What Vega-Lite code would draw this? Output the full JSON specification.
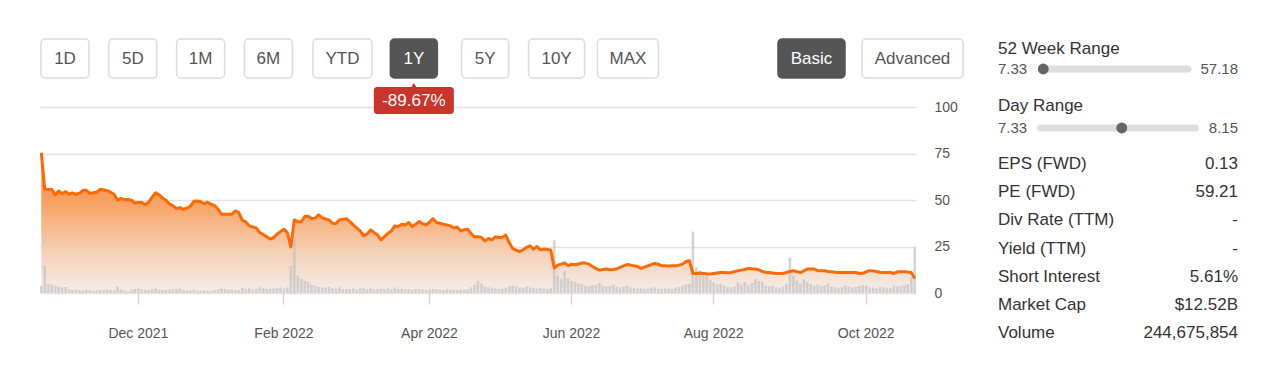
{
  "$schema": "https://vega.github.io/schema/vega-lite/v6.json",
  "background": "white",
  "padding": {"left": 39, "top": 38, "right": 0, "bottom": 0},
  "config": {"view": {"stroke": null}, "font": "Liberation Sans"},
  "datasets": {
    "buttons": [{"b":"1D"},{"b":"5D"},{"b":"1M"},{"b":"6M"},{"b":"YTD"},{"b":"1Y"},{"b":"5Y"},{"b":"10Y"},{"b":"MAX"}],
    "badge": [{"b":"1Y","t":"-89.67%"}],
    "modes": [{"b":"Basic"},{"b":"Advanced"}],
    "r52": [{"name":"52 Week Range","lo":7.33,"hi":57.18,"cur":7.76}],
    "rday": [{"name":"Day Range","lo":7.33,"hi":8.15,"cur":7.76}],
    "stats": [
      {"k":"EPS (FWD)","v":"0.13"},
      {"k":"PE (FWD)","v":"59.21"},
      {"k":"Div Rate (TTM)","v":"-"},
      {"k":"Yield (TTM)","v":"-"},
      {"k":"Short Interest","v":"5.61%"},
      {"k":"Market Cap","v":"$12.52B"},
      {"k":"Volume","v":"244,675,854"}
    ],
    "prices": [
      {"d":"2021-10-21","c":75.4,"v":39},{"d":"2021-10-22","c":55.8,"v":147},{"d":"2021-10-25","c":55.6,"v":50},{"d":"2021-10-26","c":55.8,"v":46},{"d":"2021-10-27","c":52.7,"v":40},{"d":"2021-10-28","c":54.8,"v":34},{"d":"2021-10-29","c":53.4,"v":30},
      {"d":"2021-11-01","c":54.5,"v":32},{"d":"2021-11-02","c":53.1,"v":20},{"d":"2021-11-03","c":53.8,"v":17},{"d":"2021-11-04","c":53.1,"v":18},{"d":"2021-11-05","c":53.6,"v":15},{"d":"2021-11-08","c":55.2,"v":14},{"d":"2021-11-09","c":55.2,"v":19},{"d":"2021-11-10","c":53.6,"v":16},{"d":"2021-11-11","c":53.9,"v":13},{"d":"2021-11-12","c":54.3,"v":14},{"d":"2021-11-15","c":55.8,"v":18},{"d":"2021-11-16","c":55.4,"v":16},{"d":"2021-11-17","c":55.0,"v":20},{"d":"2021-11-18","c":54.2,"v":17},{"d":"2021-11-19","c":53.1,"v":15},{"d":"2021-11-22","c":49.9,"v":36},{"d":"2021-11-23","c":50.9,"v":20},{"d":"2021-11-24","c":50.2,"v":14},{"d":"2021-11-26","c":50.3,"v":8},{"d":"2021-11-29","c":49.9,"v":18},{"d":"2021-11-30","c":48.4,"v":22},
      {"d":"2021-12-01","c":48.6,"v":24},{"d":"2021-12-02","c":48.6,"v":20},{"d":"2021-12-03","c":47.5,"v":18},{"d":"2021-12-06","c":49.0,"v":17},{"d":"2021-12-07","c":51.5,"v":21},{"d":"2021-12-08","c":53.9,"v":25},{"d":"2021-12-09","c":52.7,"v":19},{"d":"2021-12-10","c":51.0,"v":16},{"d":"2021-12-13","c":49.9,"v":15},{"d":"2021-12-14","c":47.7,"v":18},{"d":"2021-12-15","c":47.0,"v":20},{"d":"2021-12-16","c":45.4,"v":22},{"d":"2021-12-17","c":45.9,"v":24},{"d":"2021-12-20","c":45.0,"v":17},{"d":"2021-12-21","c":45.6,"v":15},{"d":"2021-12-22","c":46.6,"v":14},{"d":"2021-12-23","c":49.3,"v":18},{"d":"2021-12-27","c":49.5,"v":13},{"d":"2021-12-28","c":49.1,"v":12},{"d":"2021-12-29","c":48.0,"v":14},{"d":"2021-12-30","c":48.8,"v":11},{"d":"2021-12-31","c":47.7,"v":10},
      {"d":"2022-01-03","c":47.0,"v":16},{"d":"2022-01-04","c":45.0,"v":20},{"d":"2022-01-05","c":42.4,"v":25},{"d":"2022-01-06","c":42.4,"v":21},{"d":"2022-01-07","c":42.3,"v":18},{"d":"2022-01-10","c":42.4,"v":19},{"d":"2022-01-11","c":44.1,"v":17},{"d":"2022-01-12","c":43.2,"v":16},{"d":"2022-01-13","c":39.1,"v":28},{"d":"2022-01-14","c":38.2,"v":22},{"d":"2022-01-18","c":36.1,"v":26},{"d":"2022-01-19","c":35.5,"v":20},{"d":"2022-01-20","c":35.0,"v":23},{"d":"2022-01-21","c":32.5,"v":30},{"d":"2022-01-24","c":31.5,"v":27},{"d":"2022-01-25","c":30.2,"v":22},{"d":"2022-01-26","c":29.0,"v":25},{"d":"2022-01-27","c":29.8,"v":24},{"d":"2022-01-28","c":31.6,"v":26},{"d":"2022-01-31","c":33.0,"v":28},
      {"d":"2022-02-01","c":34.3,"v":25},{"d":"2022-02-02","c":32.5,"v":30},{"d":"2022-02-03","c":24.8,"v":147},{"d":"2022-02-04","c":39.3,"v":307},{"d":"2022-02-07","c":38.4,"v":93},{"d":"2022-02-08","c":38.3,"v":75},{"d":"2022-02-09","c":41.1,"v":66},{"d":"2022-02-10","c":41.3,"v":60},{"d":"2022-02-11","c":40.0,"v":45},{"d":"2022-02-14","c":40.2,"v":40},{"d":"2022-02-15","c":42.0,"v":34},{"d":"2022-02-16","c":40.5,"v":30},{"d":"2022-02-17","c":39.8,"v":28},{"d":"2022-02-18","c":39.3,"v":32},{"d":"2022-02-22","c":37.5,"v":25},{"d":"2022-02-23","c":37.4,"v":24},{"d":"2022-02-24","c":39.3,"v":30},{"d":"2022-02-25","c":39.6,"v":22},{"d":"2022-02-28","c":40.0,"v":20},
      {"d":"2022-03-01","c":38.4,"v":22},{"d":"2022-03-02","c":36.6,"v":24},{"d":"2022-03-03","c":35.0,"v":20},{"d":"2022-03-04","c":33.4,"v":26},{"d":"2022-03-07","c":30.7,"v":28},{"d":"2022-03-08","c":31.6,"v":22},{"d":"2022-03-09","c":33.9,"v":25},{"d":"2022-03-10","c":32.5,"v":20},{"d":"2022-03-11","c":31.3,"v":22},{"d":"2022-03-14","c":28.6,"v":24},{"d":"2022-03-15","c":30.3,"v":22},{"d":"2022-03-16","c":32.0,"v":26},{"d":"2022-03-17","c":33.4,"v":20},{"d":"2022-03-18","c":36.1,"v":30},{"d":"2022-03-21","c":35.7,"v":22},{"d":"2022-03-22","c":37.0,"v":24},{"d":"2022-03-23","c":36.6,"v":20},{"d":"2022-03-24","c":37.9,"v":21},{"d":"2022-03-25","c":35.7,"v":18},{"d":"2022-03-28","c":37.0,"v":20},{"d":"2022-03-29","c":38.4,"v":22},{"d":"2022-03-30","c":37.3,"v":18},{"d":"2022-03-31","c":36.6,"v":17},
      {"d":"2022-04-01","c":38.0,"v":20},{"d":"2022-04-04","c":40.0,"v":22},{"d":"2022-04-05","c":37.9,"v":19},{"d":"2022-04-06","c":37.5,"v":18},{"d":"2022-04-07","c":37.0,"v":17},{"d":"2022-04-08","c":36.6,"v":20},{"d":"2022-04-11","c":36.1,"v":18},{"d":"2022-04-12","c":34.9,"v":17},{"d":"2022-04-13","c":35.5,"v":16},{"d":"2022-04-14","c":33.4,"v":20},{"d":"2022-04-18","c":34.0,"v":18},{"d":"2022-04-19","c":34.3,"v":20},{"d":"2022-04-20","c":32.0,"v":30},{"d":"2022-04-21","c":30.2,"v":45},{"d":"2022-04-22","c":30.3,"v":66},{"d":"2022-04-25","c":29.8,"v":50},{"d":"2022-04-26","c":28.0,"v":35},{"d":"2022-04-27","c":29.3,"v":30},{"d":"2022-04-28","c":28.6,"v":28},{"d":"2022-04-29","c":30.2,"v":25},
      {"d":"2022-05-02","c":29.8,"v":22},{"d":"2022-05-03","c":30.0,"v":24},{"d":"2022-05-04","c":31.1,"v":28},{"d":"2022-05-05","c":27.1,"v":37},{"d":"2022-05-06","c":23.9,"v":40},{"d":"2022-05-09","c":23.0,"v":35},{"d":"2022-05-10","c":22.3,"v":30},{"d":"2022-05-11","c":23.2,"v":28},{"d":"2022-05-12","c":24.5,"v":34},{"d":"2022-05-13","c":25.4,"v":30},{"d":"2022-05-16","c":23.6,"v":26},{"d":"2022-05-17","c":25.0,"v":24},{"d":"2022-05-18","c":23.2,"v":28},{"d":"2022-05-19","c":23.6,"v":25},{"d":"2022-05-20","c":23.4,"v":22},{"d":"2022-05-23","c":23.1,"v":27},{"d":"2022-05-24","c":13.4,"v":284},{"d":"2022-05-25","c":15.0,"v":93},{"d":"2022-05-26","c":15.5,"v":77},{"d":"2022-05-27","c":16.2,"v":120},{"d":"2022-05-31","c":14.6,"v":80},
      {"d":"2022-06-01","c":15.5,"v":64},{"d":"2022-06-02","c":15.2,"v":60},{"d":"2022-06-03","c":15.6,"v":52},{"d":"2022-06-06","c":16.1,"v":48},{"d":"2022-06-07","c":16.1,"v":40},{"d":"2022-06-08","c":15.5,"v":38},{"d":"2022-06-09","c":14.3,"v":42},{"d":"2022-06-10","c":13.2,"v":45},{"d":"2022-06-13","c":12.3,"v":55},{"d":"2022-06-14","c":12.6,"v":40},{"d":"2022-06-15","c":12.9,"v":36},{"d":"2022-06-16","c":12.5,"v":38},{"d":"2022-06-17","c":12.6,"v":45},{"d":"2022-06-21","c":12.9,"v":34},{"d":"2022-06-22","c":13.8,"v":30},{"d":"2022-06-23","c":14.6,"v":36},{"d":"2022-06-24","c":15.3,"v":40},{"d":"2022-06-27","c":15.0,"v":30},{"d":"2022-06-28","c":14.6,"v":28},{"d":"2022-06-29","c":14.3,"v":24},{"d":"2022-06-30","c":13.2,"v":26},
      {"d":"2022-07-01","c":13.9,"v":22},{"d":"2022-07-05","c":14.6,"v":25},{"d":"2022-07-06","c":15.3,"v":28},{"d":"2022-07-07","c":15.9,"v":30},{"d":"2022-07-08","c":15.5,"v":24},{"d":"2022-07-11","c":14.6,"v":22},{"d":"2022-07-12","c":14.6,"v":26},{"d":"2022-07-13","c":14.5,"v":24},{"d":"2022-07-14","c":14.6,"v":22},{"d":"2022-07-15","c":14.6,"v":28},{"d":"2022-07-18","c":15.0,"v":32},{"d":"2022-07-19","c":15.5,"v":40},{"d":"2022-07-20","c":16.9,"v":48},{"d":"2022-07-21","c":17.3,"v":50},{"d":"2022-07-22","c":10.5,"v":330},{"d":"2022-07-25","c":10.5,"v":138},{"d":"2022-07-26","c":10.7,"v":120},{"d":"2022-07-27","c":10.5,"v":95},{"d":"2022-07-28","c":10.3,"v":100},{"d":"2022-07-29","c":10.2,"v":70},
      {"d":"2022-08-01","c":10.5,"v":57},{"d":"2022-08-02","c":10.8,"v":45},{"d":"2022-08-03","c":11.0,"v":48},{"d":"2022-08-04","c":11.0,"v":40},{"d":"2022-08-05","c":10.9,"v":32},{"d":"2022-08-08","c":11.0,"v":30},{"d":"2022-08-09","c":11.5,"v":34},{"d":"2022-08-10","c":12.0,"v":57},{"d":"2022-08-11","c":12.3,"v":45},{"d":"2022-08-12","c":12.7,"v":60},{"d":"2022-08-15","c":13.2,"v":42},{"d":"2022-08-16","c":13.0,"v":55},{"d":"2022-08-17","c":12.9,"v":75},{"d":"2022-08-18","c":12.5,"v":66},{"d":"2022-08-19","c":11.6,"v":62},{"d":"2022-08-22","c":11.2,"v":40},{"d":"2022-08-23","c":11.0,"v":35},{"d":"2022-08-24","c":10.8,"v":38},{"d":"2022-08-25","c":10.5,"v":30},{"d":"2022-08-26","c":10.5,"v":28},{"d":"2022-08-29","c":10.5,"v":34},{"d":"2022-08-30","c":11.0,"v":50},{"d":"2022-08-31","c":11.6,"v":191},
      {"d":"2022-09-01","c":12.0,"v":90},{"d":"2022-09-02","c":11.5,"v":66},{"d":"2022-09-06","c":11.0,"v":50},{"d":"2022-09-07","c":11.9,"v":72},{"d":"2022-09-08","c":12.9,"v":60},{"d":"2022-09-09","c":12.9,"v":48},{"d":"2022-09-12","c":12.9,"v":40},{"d":"2022-09-13","c":12.0,"v":45},{"d":"2022-09-14","c":12.0,"v":38},{"d":"2022-09-15","c":12.0,"v":42},{"d":"2022-09-16","c":11.6,"v":50},{"d":"2022-09-19","c":11.4,"v":35},{"d":"2022-09-20","c":11.2,"v":30},{"d":"2022-09-21","c":11.0,"v":28},{"d":"2022-09-22","c":11.0,"v":32},{"d":"2022-09-23","c":11.0,"v":40},{"d":"2022-09-26","c":11.0,"v":36},{"d":"2022-09-27","c":11.0,"v":30},{"d":"2022-09-28","c":11.0,"v":34},{"d":"2022-09-29","c":10.5,"v":38},{"d":"2022-09-30","c":10.6,"v":42},
      {"d":"2022-10-03","c":11.4,"v":40},{"d":"2022-10-04","c":12.0,"v":30},{"d":"2022-10-05","c":11.8,"v":28},{"d":"2022-10-06","c":11.6,"v":26},{"d":"2022-10-07","c":11.2,"v":32},{"d":"2022-10-10","c":11.0,"v":30},{"d":"2022-10-11","c":11.0,"v":28},{"d":"2022-10-12","c":11.0,"v":26},{"d":"2022-10-13","c":10.5,"v":40},{"d":"2022-10-14","c":11.4,"v":34},{"d":"2022-10-17","c":11.4,"v":36},{"d":"2022-10-18","c":11.4,"v":42},{"d":"2022-10-19","c":11.3,"v":48},{"d":"2022-10-20","c":11.0,"v":84},{"d":"2022-10-21","c":7.8,"v":245}
    ]
  },
  "hconcat": [
    {
      "width": 876,
      "height": 254,
      "layer": [
        {
          "data": {"name": "prices"},
          "encoding": {
            "x": {
              "field": "d", "type": "ordinal",
              "scale": {"type": "band", "paddingInner": 0.25, "paddingOuter": 0},
              "axis": {
                "values": ["2021-12-01","2022-02-01","2022-04-01","2022-06-01","2022-08-01","2022-10-03"],
                "labelExpr": "utcFormat(toDate(datum.value), '%b %Y')",
                "domain": false, "grid": false, "ticks": true, "tickSize": 11, "tickColor": "#d4d4d4", "tickWidth": 1.5,
                "labelPadding": 22, "labelFontSize": 14, "labelColor": "#555555", "labelAngle": 0, "labelOverlap": false, "title": null
              }
            }
          },
          "layer": [
            {
              "mark": {"type": "area", "color": {"gradient": "linear", "x1": 0, "y1": 0, "x2": 0, "y2": 1,
                "stops": [{"offset": 0, "color": "#f6842c"}, {"offset": 0.35, "color": "#f7a262"}, {"offset": 0.7, "color": "#f5cfb3"}, {"offset": 1, "color": "#f3efed"}]}},
              "encoding": {
                "y": {"field": "c", "type": "quantitative", "scale": {"domain": [0, 100], "range": [254, 68], "nice": false},
                  "axis": {"orient": "right", "values": [0, 25, 50, 75, 100], "grid": true, "gridColor": "#e3e3e3", "gridWidth": 1.5,
                    "domain": false, "ticks": false, "labelPadding": 18, "labelFontSize": 14, "labelColor": "#555555", "title": null}}
              }
            },
            {
              "mark": {"type": "bar", "color": "#c2c2c2", "opacity": 0.7},
              "encoding": {
                "y": {"field": "v", "type": "quantitative", "scale": {"domain": [0, 1000], "range": [254, 68], "nice": false}, "axis": null}
              }
            },
            {
              "mark": {"type": "line", "color": "#fd6a02", "strokeWidth": 3, "strokeJoin": "round"},
              "encoding": {
                "y": {"field": "c", "type": "quantitative", "scale": {"domain": [0, 100], "range": [254, 68], "nice": false}, "axis": null}
              }
            }
          ],
          "resolve": {"scale": {"y": "independent"}}
        },
        {
          "data": {"name": "buttons"},
          "transform": [{"filter": {"field": "b", "oneOf": ["1D","5D","1M","6M"]}}],
          "encoding": {
            "x": {"field": "b", "type": "nominal", "sort": null,
              "scale": {"type": "band", "domain": ["1D","5D","1M","6M"], "range": [-8.9, 262.3], "paddingInner": 0, "paddingOuter": 0},
              "axis": null},
            "y": {"datum": "btn", "type": "nominal",
              "scale": {"type": "band", "domain": ["btn"], "range": [0, 39], "paddingInner": 0, "paddingOuter": 0},
              "axis": null}
          },
          "layer": [
            {
              "mark": {"type": "rect", "width": 48, "cornerRadius": 4, "stroke": "#dcdcdc", "strokeWidth": 1.5, "fill": "#ffffff"}
            },
            {
              "mark": {"type": "text", "fontSize": 17, "baseline": "middle", "color": "#555555"},
              "encoding": {"text": {"field": "b"}}
            }
          ]
        },
        {
          "data": {"name": "buttons"},
          "transform": [{"filter": {"field": "b", "oneOf": ["YTD","1Y","5Y","10Y","MAX"]}}],
          "encoding": {
            "x": {"field": "b", "type": "nominal", "sort": null,
              "scale": {"type": "band", "domain": ["YTD","1Y","5Y","10Y","MAX"], "range": [266.8, 623.6], "paddingInner": 0, "paddingOuter": 0},
              "axis": null},
            "y": {"datum": "btn", "type": "nominal",
              "scale": {"type": "band", "domain": ["btn", "badge"], "range": [0, 78], "paddingInner": 0, "paddingOuter": 0},
              "axis": null}
          },
          "layer": [
            {
              "transform": [{"filter": {"field": "b", "oneOf": ["1Y","5Y"]}}],
              "mark": {"type": "rect", "width": 47, "cornerRadius": 4, "stroke": "#dcdcdc", "strokeWidth": 1.5},
              "encoding": {"fill": {"condition": {"test": "datum.b === '1Y'", "value": "#555555"}, "value": "#ffffff"},
                           "stroke": {"condition": {"test": "datum.b === '1Y'", "value": "#555555"}, "value": "#dcdcdc"}}
            },
            {
              "transform": [{"filter": {"field": "b", "equal": "YTD"}}],
              "mark": {"type": "rect", "width": 59, "cornerRadius": 4, "stroke": "#dcdcdc", "strokeWidth": 1.5, "fill": "#ffffff"}
            },
            {
              "transform": [{"filter": {"field": "b", "equal": "10Y"}}],
              "mark": {"type": "rect", "width": 56, "cornerRadius": 4, "stroke": "#dcdcdc", "strokeWidth": 1.5, "fill": "#ffffff"}
            },
            {
              "transform": [{"filter": {"field": "b", "equal": "MAX"}}],
              "mark": {"type": "rect", "width": 61, "cornerRadius": 4, "stroke": "#dcdcdc", "strokeWidth": 1.5, "fill": "#ffffff"}
            },
            {
              "mark": {"type": "text", "fontSize": 17, "baseline": "middle"},
              "encoding": {
                "text": {"field": "b"},
                "color": {"condition": {"test": "datum.b === '1Y'", "value": "#ffffff"}, "value": "#555555"}
              }
            },
            {
              "data": {"name": "badge"},
              "transform": [],
              "mark": {"type": "point", "shape": "triangle-up", "size": 70, "filled": true, "color": "#c9352b", "opacity": 1, "yOffset": -11},
              "encoding": {"y": {"datum": "badge", "type": "nominal"}}
            },
            {
              "data": {"name": "badge"},
              "mark": {"type": "rect", "width": 80, "height": 27, "cornerRadius": 3, "fill": "#c9352b", "yOffset": 3},
              "encoding": {"y": {"datum": "badge", "type": "nominal"}}
            },
            {
              "data": {"name": "badge"},
              "mark": {"type": "text", "fontSize": 17, "baseline": "middle", "color": "#ffffff", "yOffset": 3},
              "encoding": {"y": {"datum": "badge", "type": "nominal"}, "text": {"field": "t"}}
            }
          ]
        },
        {
          "data": {"name": "modes"},
          "encoding": {
            "x": {"field": "b", "type": "nominal", "sort": null,
              "scale": {"type": "band", "domain": ["Basic", "Advanced"], "range": [721, 923], "paddingInner": 0, "paddingOuter": 0},
              "axis": null},
            "y": {"datum": "btn", "type": "nominal",
              "scale": {"type": "band", "domain": ["btn"], "range": [0, 39], "paddingInner": 0, "paddingOuter": 0},
              "axis": null}
          },
          "layer": [
            {
              "transform": [{"filter": {"field": "b", "equal": "Basic"}}],
              "mark": {"type": "rect", "width": 67, "cornerRadius": 4, "stroke": "#555555", "strokeWidth": 1.5, "fill": "#555555"}
            },
            {
              "transform": [{"filter": {"field": "b", "equal": "Advanced"}}],
              "mark": {"type": "rect", "width": 101, "cornerRadius": 4, "stroke": "#dcdcdc", "strokeWidth": 1.5, "fill": "#ffffff"}
            },
            {
              "mark": {"type": "text", "fontSize": 17, "baseline": "middle"},
              "encoding": {
                "text": {"field": "b"},
                "color": {"condition": {"test": "datum.b === 'Basic'", "value": "#ffffff"}, "value": "#555555"}
              }
            }
          ]
        }
      ],
      "resolve": {"scale": {"x": "independent", "y": "independent"}}
    },
    {
      "vconcat": [
        {
          "vconcat": [
            {
              "width": 240,
              "height": 40,
              "data": {"name": "r52"},
              "layer": [
                {
                  "layer": [
                    {
                      "mark": {"type": "text", "align": "left", "baseline": "middle", "fontSize": 17, "color": "#333333"},
                      "encoding": {
                        "x": {"datum": "L", "type": "nominal", "scale": {"type": "point", "domain": ["L", "R"], "padding": 0}, "axis": null},
                        "y": {"datum": "t", "type": "nominal", "scale": {"type": "point", "domain": ["t", "s"], "padding": 0.5}, "axis": null},
                        "text": {"field": "name"}
                      }
                    },
                    {
                      "mark": {"type": "text", "align": "left", "baseline": "middle", "fontSize": 15, "color": "#555555"},
                      "encoding": {
                        "x": {"datum": "L", "type": "nominal", "scale": {"type": "point", "domain": ["L", "R"], "padding": 0}, "axis": null},
                        "y": {"datum": "s", "type": "nominal", "scale": {"type": "point", "domain": ["t", "s"], "padding": 0.5}, "axis": null},
                        "text": {"field": "lo", "type": "quantitative", "format": ".2f"}
                      }
                    },
                    {
                      "mark": {"type": "text", "align": "right", "baseline": "middle", "fontSize": 15, "color": "#555555"},
                      "encoding": {
                        "x": {"datum": "R", "type": "nominal", "scale": {"type": "point", "domain": ["L", "R"], "padding": 0}, "axis": null},
                        "y": {"datum": "s", "type": "nominal", "scale": {"type": "point", "domain": ["t", "s"], "padding": 0.5}, "axis": null},
                        "text": {"field": "hi", "type": "quantitative", "format": ".2f"}
                      }
                    }
                  ]
                },
                {
                  "layer": [
                    {
                      "mark": {"type": "rule", "strokeWidth": 7, "strokeCap": "round", "color": "#dedede"},
                      "encoding": {
                        "x": {"field": "lo", "type": "quantitative", "scale": {"domain": [7.33, 57.18], "range": [44, 190], "nice": false, "zero": false}, "axis": null},
                        "x2": {"field": "hi"},
                        "y": {"datum": "s", "type": "nominal", "scale": {"type": "point", "domain": ["t", "s"], "padding": 0.5}, "axis": null}
                      }
                    },
                    {
                      "mark": {"type": "point", "filled": true, "size": 120, "color": "#666666", "opacity": 1},
                      "encoding": {
                        "x": {"field": "cur", "type": "quantitative", "scale": {"domain": [7.33, 57.18], "range": [44, 190], "nice": false, "zero": false}, "axis": null},
                        "y": {"datum": "s", "type": "nominal", "scale": {"type": "point", "domain": ["t", "s"], "padding": 0.5}, "axis": null}
                      }
                    }
                  ]
                }
              ],
              "resolve": {"scale": {"x": "independent"}}
            },
            {
              "width": 240,
              "height": 44,
              "data": {"name": "rday"},
              "layer": [
                {
                  "layer": [
                    {
                      "mark": {"type": "text", "align": "left", "baseline": "middle", "fontSize": 17, "color": "#333333"},
                      "encoding": {
                        "x": {"datum": "L", "type": "nominal", "scale": {"type": "point", "domain": ["L", "R"], "padding": 0}, "axis": null},
                        "y": {"datum": "t", "type": "nominal", "scale": {"type": "point", "domain": ["t", "s"], "padding": 0.5}, "axis": null},
                        "text": {"field": "name"}
                      }
                    },
                    {
                      "mark": {"type": "text", "align": "left", "baseline": "middle", "fontSize": 15, "color": "#555555"},
                      "encoding": {
                        "x": {"datum": "L", "type": "nominal", "scale": {"type": "point", "domain": ["L", "R"], "padding": 0}, "axis": null},
                        "y": {"datum": "s", "type": "nominal", "scale": {"type": "point", "domain": ["t", "s"], "padding": 0.5}, "axis": null},
                        "text": {"field": "lo", "type": "quantitative", "format": ".2f"}
                      }
                    },
                    {
                      "mark": {"type": "text", "align": "right", "baseline": "middle", "fontSize": 15, "color": "#555555"},
                      "encoding": {
                        "x": {"datum": "R", "type": "nominal", "scale": {"type": "point", "domain": ["L", "R"], "padding": 0}, "axis": null},
                        "y": {"datum": "s", "type": "nominal", "scale": {"type": "point", "domain": ["t", "s"], "padding": 0.5}, "axis": null},
                        "text": {"field": "hi", "type": "quantitative", "format": ".2f"}
                      }
                    }
                  ]
                },
                {
                  "layer": [
                    {
                      "mark": {"type": "rule", "strokeWidth": 7, "strokeCap": "round", "color": "#dedede"},
                      "encoding": {
                        "x": {"field": "lo", "type": "quantitative", "scale": {"domain": [7.33, 8.15], "range": [42.5, 197.5], "nice": false, "zero": false}, "axis": null},
                        "x2": {"field": "hi"},
                        "y": {"datum": "s", "type": "nominal", "scale": {"type": "point", "domain": ["t", "s"], "padding": 0.5}, "axis": null}
                      }
                    },
                    {
                      "mark": {"type": "point", "filled": true, "size": 120, "color": "#666666", "opacity": 1},
                      "encoding": {
                        "x": {"field": "cur", "type": "quantitative", "scale": {"domain": [7.33, 8.15], "range": [42.5, 197.5], "nice": false, "zero": false}, "axis": null},
                        "y": {"datum": "s", "type": "nominal", "scale": {"type": "point", "domain": ["t", "s"], "padding": 0.5}, "axis": null}
                      }
                    }
                  ]
                }
              ],
              "resolve": {"scale": {"x": "independent"}}
            }
          ],
          "spacing": 16
        },
        {
          "width": 240,
          "height": 197,
          "data": {"name": "stats"},
          "encoding": {
            "y": {"field": "k", "type": "nominal", "sort": null, "scale": {"type": "point", "padding": 0.5}, "axis": null}
          },
          "layer": [
            {
              "mark": {"type": "text", "align": "left", "baseline": "middle", "fontSize": 17, "color": "#333333"},
              "encoding": {
                "x": {"datum": "L", "type": "nominal", "scale": {"type": "point", "domain": ["L", "R"], "padding": 0}, "axis": null},
                "text": {"field": "k"}
              }
            },
            {
              "mark": {"type": "text", "align": "right", "baseline": "middle", "fontSize": 17, "color": "#333333"},
              "encoding": {
                "x": {"datum": "R", "type": "nominal", "scale": {"type": "point", "domain": ["L", "R"], "padding": 0}, "axis": null},
                "text": {"field": "v"}
              }
            }
          ]
        }
      ],
      "spacing": 11
    }
  ],
  "spacing": 34
}
